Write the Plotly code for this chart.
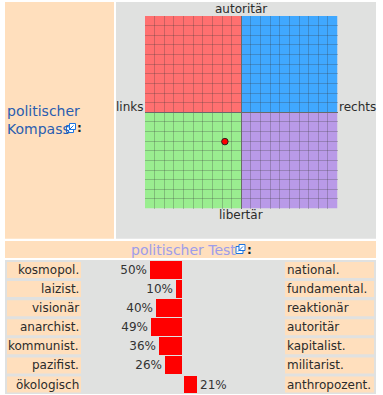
import plotly.graph_objects as go

W, H = 383, 395
LEFT_LABELS = ["kosmopol.", "laizist.", "visionär", "anarchist.", "kommunist.", "pazifist.", "ökologisch"]
RIGHT_LABELS = ["national.", "fundamental.", "reaktionär", "autoritär", "kapitalist.", "militarist.", "anthropozent."]
LEFT_VALUES = [50, 10, 40, 49, 36, 26, None]
RIGHT_VALUES = [None, None, None, None, None, None, 21]
COMPASS_X = [-1.7]
COMPASS_Y = [-3.05]
AXIS_WORDS = {"top": "autoritär", "bottom": "libertär", "left": "links", "right": "rechts"}
TITLE_1 = "politischer<br>Kompass"
TITLE_2 = "politischer Test"

PEACH = "#ffdfbd"; GRAY = "#e0e1e0"; FONT = "DejaVu Sans"; TXT = "#2b2b2b"
ROWS = list(range(7))
PX = 0.64  # pixels per percent
ZERO = 182
GAP = 2 / PX


def px(x0, y0, x1, y1, color):
    return dict(type="rect", xref="paper", yref="paper", x0=x0 / W, x1=x1 / W,
                y0=1 - y0 / H, y1=1 - y1 / H, fillcolor=color, line_width=0, layer="below")


def q(x0, y0, x1, y1, color):
    return dict(type="rect", xref="x", yref="y", x0=x0, x1=x1, y0=y0, y1=y1,
                fillcolor=color, line_width=0, layer="below")


def icon(x, y, color="#1a73e0"):
    return [
        dict(type="rect", xref="paper", yref="paper", x0=(x) / W, x1=(x + 7) / W, y0=1 - (y + 2) / H, y1=1 - (y + 9) / H,
             line=dict(color=color, width=1), fillcolor="white", layer="above"),
        dict(type="rect", xref="paper", yref="paper", x0=(x + 3) / W, x1=(x + 9) / W, y0=1 - y / H, y1=1 - (y + 6) / H,
             line=dict(color=color, width=1), fillcolor="white", layer="above"),
        dict(type="line", xref="paper", yref="paper", x0=(x + 2) / W, x1=(x + 7) / W, y0=1 - (y + 7) / H, y1=1 - (y + 2) / H,
             line=dict(color=color, width=1), layer="above"),
    ]


shapes = [
    px(5, 2, 114, 238.7, PEACH), px(116, 2, 376, 238.7, GRAY),
    px(5, 241, 376, 258, PEACH), px(5, 260, 376, 394, GRAY),
    q(-10, 0, 0, 10, "#ff7070"), q(0, 0, 10, 10, "#40a8ff"),
    q(-10, -10, 0, 0, "#9aee90"), q(0, -10, 10, 0, "#b99ae8"),
]
for i in ROWS:
    y0, y1 = 262 + 19.08 * i, 278 + 19.08 * i
    shapes.append(px(7, y0, 81, y1, PEACH))
    shapes.append(px(285, y0, 374, y1, PEACH))
shapes += icon(66.5, 123.5) + icon(236, 244.5)

annotations = []


def note(text, x, y, xanchor="center", size=12, color=TXT, yanchor="middle", yref="paper", **kw):
    annotations.append(dict(text=text, x=x / W, y=(1 - y / H) if yref == "paper" else y, xref="paper", yref=yref,
                            xanchor=xanchor, yanchor=yanchor, showarrow=False, borderpad=0,
                            font=dict(family=FONT, size=size, color=color), **kw))


note(AXIS_WORDS["top"], 240.5, 9)
note(AXIS_WORDS["bottom"], 240.5, 215)
note(AXIS_WORDS["left"], 143.5, 107, "right")
note(AXIS_WORDS["right"], 338, 107, "left")
note(TITLE_1, 6, 120, "left", 14, "#2a5db0", align="left")
note("<b>:</b>", 76, 128, "left", 12, "#222222")
note(TITLE_2, 130, 249.5, "left", 14, "#9d9dea")
note("<b>:</b>", 246, 249.5, "left", 12, "#222222")
for i in ROWS:
    note(LEFT_LABELS[i], 80, i, "right", yref="y2")
    note(RIGHT_LABELS[i], 286, i, "left", yref="y2")

fig = go.Figure()
fig.add_trace(go.Scatter(x=COMPASS_X, y=COMPASS_Y, mode="markers", xaxis="x", yaxis="y", showlegend=False,
                         marker=dict(size=6.5, color="#ff0000", line=dict(color="#222222", width=1))))
fig.add_trace(go.Bar(y=ROWS, x=[None if v is None else -v for v in LEFT_VALUES], orientation="h", xaxis="x2", yaxis="y2",
                     width=0.94, marker=dict(color="#ff0000", line_width=0), showlegend=False,
                     text=[f"{v}%" if v is not None else "" for v in LEFT_VALUES], textposition="outside",
                     cliponaxis=False, textfont=dict(family=FONT, size=12, color="#333333")))
fig.add_trace(go.Bar(y=ROWS, x=RIGHT_VALUES, base=GAP, orientation="h", xaxis="x2", yaxis="y2",
                     width=0.94, marker=dict(color="#ff0000", line_width=0), showlegend=False,
                     text=[f"{v}%" if v is not None else "" for v in RIGHT_VALUES], textposition="outside",
                     cliponaxis=False, textfont=dict(family=FONT, size=12, color="#333333")))

grid = dict(range=[-10, 10], dtick=1, tick0=0, showgrid=True, gridcolor="rgba(60,60,60,0.27)", gridwidth=1,
            zeroline=True, zerolinecolor="#6a6a6a", zerolinewidth=1.3, showticklabels=False, ticks="", showline=False)
fig.update_layout(
    width=W, height=H, margin=dict(l=0, r=0, t=0, b=0), paper_bgcolor="white", plot_bgcolor="rgba(0,0,0,0)",
    barmode="overlay", bargap=0, shapes=shapes, annotations=annotations,
    xaxis=dict(domain=[145 / W, 337.5 / W], anchor="y", **grid),
    yaxis=dict(domain=[1 - 208.5 / H, 1 - 16 / H], anchor="x", **grid),
    xaxis2=dict(domain=[0, 1], range=[-ZERO / PX, (W - ZERO) / PX], anchor="y2", visible=False),
    yaxis2=dict(domain=[0, 1 - 260 / H], range=[6.55, -0.524], anchor="x2", visible=False),
)
fig.write_html("out.html", config={"displayModeBar": False},
               post_script="document.body.style.margin='0';document.documentElement.style.overflow='hidden';")
